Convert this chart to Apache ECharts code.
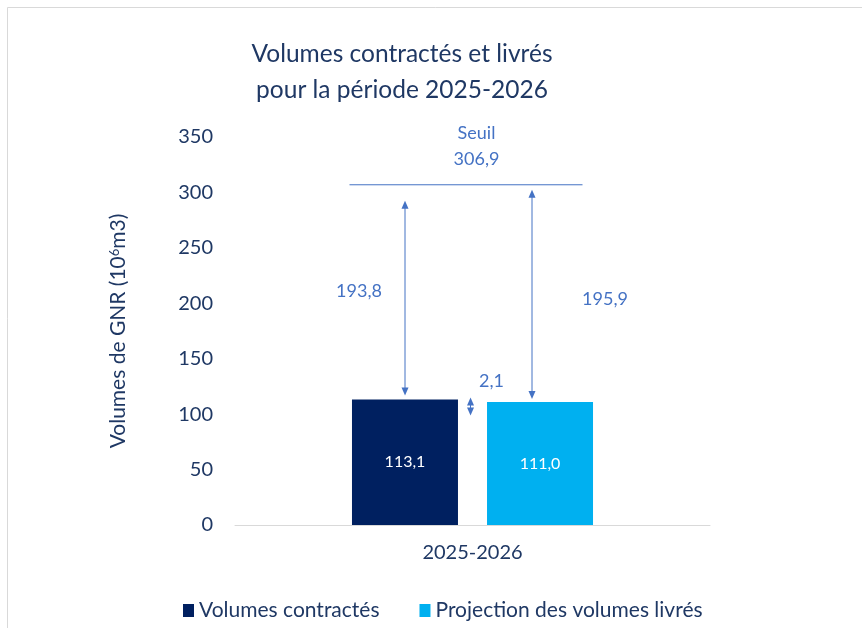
<!DOCTYPE html>
<html>
<head>
<meta charset="utf-8">
<script src="https://cdn.jsdelivr.net/npm/echarts@6/dist/echarts.min.js"></script>
<style>html,body{margin:0;padding:0;background:#fff}#c{width:862px;height:628px}</style>
</head>
<body>
<div id="c"></div>
<script>
// ---- data ----
const categories = ['2025-2026'];
const volumesContractes = [113.1];
const projectionLivres = [111.0];
const seuil = [306.9];
const ecartLabels = [193.8, 195.9, 2.1]; // seuil-contractés, seuil-projection, contractés-projection
const yTicks = [0, 50, 100, 150, 200, 250, 300, 350];
const seriesNames = ['Volumes contractés', 'Projection des volumes livrés'];

const FONT = 'Lato';
const NAVY = '#1F3864';
const ANN = '#4472C4';
const BAR_W = 106, GAP = 29;
const fr = v => (Math.round(v * 10) / 10).toFixed(1).replace('.', ',');

const chart = echarts.init(document.getElementById('c'), null, {renderer: 'canvas'});

function arrowHead(x, y, dir) {
  return {type: 'polygon', shape: {points: [[x, y], [x - 3.5, y - dir * 8], [x + 3.5, y - dir * 8]]},
    style: {fill: ANN}, silent: true};
}
function dblArrow(x, yTop, yBot) {
  return [
    {type: 'line', shape: {x1: x, y1: yTop + 4, x2: x, y2: yBot - 4}, style: {stroke: ANN, lineWidth: 1}},
    arrowHead(x, yTop, -1), arrowHead(x, yBot, 1)
  ];
}
function txt(s, x, y) {
  return {type: 'text', style: {text: s, x: x, y: y, fill: ANN, fontSize: 18, fontFamily: FONT,
    align: 'center', verticalAlign: 'middle'}};
}

const option = {
  backgroundColor: '#fff',
  animation: false,
  graphic: [{type: 'rect', shape: {x: 7.5, y: 7.5, width: 900, height: 700},
    style: {fill: 'none', stroke: '#d9d9d9', lineWidth: 1}, silent: true}],
  title: {
    text: 'Volumes contractés et livrés\npour la période 2025-2026',
    left: 397, top: 31, textAlign: 'center',
    textStyle: {fontFamily: FONT, fontSize: 24.5, fontWeight: 'normal', color: NAVY, lineHeight: 36}
  },
  legend: {
    data: seriesNames, left: 178, top: 595, itemWidth: 11, itemHeight: 13, itemGap: 40,
    icon: 'rect',
    textStyle: {fontFamily: FONT, fontSize: 21, color: NAVY}
  },
  grid: {left: 235, right: 152, top: 137, bottom: 103, containLabel: false},
  xAxis: {
    type: 'category', data: categories,
    axisLine: {lineStyle: {color: '#d9d9d9', width: 1}},
    axisTick: {show: false},
    axisLabel: {fontFamily: FONT, fontSize: 20, color: NAVY, margin: 18}
  },
  yAxis: {
    type: 'value', min: yTicks[0], max: yTicks[yTicks.length - 1], interval: yTicks[1] - yTicks[0],
    axisLine: {show: false}, axisTick: {show: false}, splitLine: {show: false},
    axisLabel: {fontFamily: FONT, fontSize: 20, color: NAVY, margin: 22},
    name: 'Volumes de GNR (10{sup|6}m3)',
    nameLocation: 'middle', nameGap: 106, nameRotate: 90,
    nameTextStyle: {fontFamily: FONT, fontSize: 21, color: NAVY,
      rich: {sup: {fontFamily: FONT, fontSize: 13, color: NAVY, verticalAlign: 'top', padding: [0, 0, 7, 0]}}}
  },
  series: [
    {
      name: seriesNames[0], type: 'bar', data: volumesContractes, barWidth: BAR_W,
      barGap: (GAP / BAR_W * 100).toFixed(1) + '%',
      itemStyle: {color: '#002060'},
      label: {show: true, position: 'inside', color: '#fff', fontFamily: FONT, fontSize: 16,
        formatter: p => fr(p.value)}
    },
    {
      name: seriesNames[1], type: 'bar', data: projectionLivres, barWidth: BAR_W,
      itemStyle: {color: '#00B0F0'},
      label: {show: true, position: 'inside', color: '#fff', fontFamily: FONT, fontSize: 16,
        formatter: p => fr(p.value)}
    },
    {
      name: 'annotations', type: 'custom', silent: true, z: 5,
      data: [[0, seuil[0]]],
      encode: {x: 0, y: 1},
      renderItem: function (params, api) {
        const c = api.coord([0, 0]);
        const cx = c[0];
        const yT = api.coord([0, api.value(1)])[1];
        const y1 = api.coord([0, volumesContractes[0]])[1];
        const y2 = api.coord([0, projectionLivres[0]])[1];
        const b1 = cx - (BAR_W + GAP) / 2;
        const b2 = cx + (BAR_W + GAP) / 2 - 8;
        const children = [
          {type: 'line', shape: {x1: cx - 123, y1: yT, x2: cx + 110, y2: yT}, style: {stroke: ANN, lineWidth: 1}},
          ...dblArrow(b1, yT + 16, y1 - 4),
          ...dblArrow(b2, yT + 5, y2 - 3),
          ...dblArrow(cx - 2, y1 - 2, y1 + 16),
          txt('Seuil', cx + 4, yT - 52),
          txt(fr(seuil[0]), cx + 4, yT - 26),
          txt(fr(ecartLabels[0]), b1 - 46, (yT + 16 + y1) / 2 - 9),
          txt(fr(ecartLabels[1]), b2 + 73, (yT + 5 + y2) / 2 + 3),
          txt(fr(ecartLabels[2]), cx + 19, y1 - 18)
        ];
        return {type: 'group', children: children};
      }
    }
  ]
};
chart.setOption(option);
</script>
</body>
</html>
